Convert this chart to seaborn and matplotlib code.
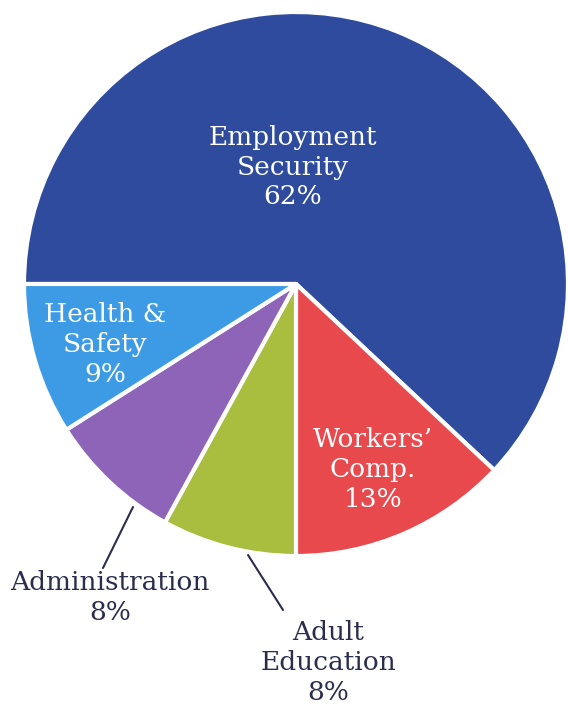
import matplotlib
matplotlib.use("Agg")
import matplotlib.pyplot as plt
import seaborn as sns

# Slice data, clockwise from the left horizontal
names = ["Employment\nSecurity", "Workers’\nComp.", "Adult\nEducation", "Administration", "Health &\nSafety"]
shares = [62, 13, 8, 8, 9]
colors = ["#2e4b9e", "#e8494c", "#a9be3e", "#8e64b8", "#3d9be6"]

sns.set_style("white")
plt.rcParams['font.family'] = ['DejaVu Serif']

fig = plt.figure(figsize=(5.69, 7.09), dpi=100)
ax = fig.add_axes([0, 0, 1, 1])

R = 272.0
cx, cy = 296.0, 284.0

def px(x, y):
    # pixel position -> data coords (pie radius = 1)
    return (x - cx) / R, (cy - y) / R

wedges, _ = ax.pie(shares, colors=colors, startangle=180, counterclock=False,
                   radius=1, wedgeprops=dict(edgecolor="white", linewidth=3,
                                             joinstyle="round"))

ax.set_xlim(-cx / R, (569 - cx) / R)
ax.set_ylim(-(709 - cy) / R, cy / R)
ax.set_aspect("auto")
ax.axis("off")

fs = 19
# inside labels (white)
inside = {0: (293, 167), 1: (373, 470), 4: (105, 345)}
for i, (x, y) in inside.items():
    ax.text(*px(x, y), f"{names[i]}\n{shares[i]}%", ha="center", va="center",
            color="white", fontsize=fs, linespacing=1.25)

# outside labels with leader lines
dark = "#2b2d4f"
outside = {3: ((110, 597), (133, 507), (103, 568)),
           2: ((328, 662), (248, 555), (283, 610))}
for i, (pos, p0, p1) in outside.items():
    ax.text(*px(*pos), f"{names[i]}\n{shares[i]}%", ha="center", va="center",
            color=dark, fontsize=fs, linespacing=1.25)
    ax.plot([px(*p0)[0], px(*p1)[0]], [px(*p0)[1], px(*p1)[1]], color=dark, lw=1.5)

fig.savefig("out.png", dpi=100, facecolor="white")
